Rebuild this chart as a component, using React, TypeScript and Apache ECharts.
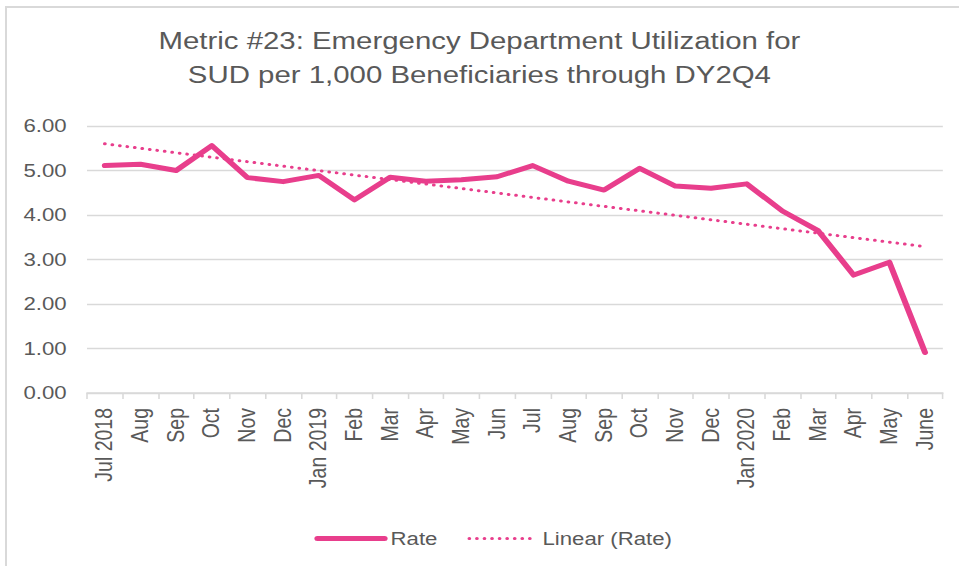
import React, { useEffect, useRef } from "react";
import * as echarts from "echarts";

const titleLines = [
  "Metric #23: Emergency Department Utilization for",
  "SUD per 1,000 Beneficiaries through DY2Q4",
];

const categories = [
  "Jul 2018", "Aug", "Sep", "Oct", "Nov", "Dec",
  "Jan 2019", "Feb", "Mar", "Apr", "May", "Jun",
  "Jul", "Aug", "Sep", "Oct", "Nov", "Dec",
  "Jan 2020", "Feb", "Mar", "Apr", "May", "June",
];

const rateValues = [
  5.11, 5.14, 5.0, 5.56, 4.84, 4.75,
  4.89, 4.34, 4.85, 4.76, 4.79, 4.86,
  5.11, 4.76, 4.56, 5.05, 4.65, 4.6,
  4.7, 4.09, 3.65, 2.65, 2.94, 0.91,
];

// Trend line endpoints (first and last month)
const trendStart = 5.6;
const trendEnd = 3.29;

const yTicks = { min: 0, max: 6, interval: 1 };

const seriesNames = ["Rate", "Linear (Rate)"];

const PINK = "#E83E8C";
const TEXT = "#595959";
const GRID = "#D9D9D9";
const FONT = "'Liberation Sans', Arial, Helvetica, sans-serif";
const SX = 1.2;
const W = 959 / SX;
const H = 566;

export default function App() {
  const ref = useRef<HTMLDivElement>(null);

  useEffect(() => {
    if (!ref.current) return;
    const chart = echarts.init(ref.current, undefined, { renderer: "svg" });
    const trendData = categories.map((_, i) =>
      i === 0 ? trendStart : i === categories.length - 1 ? trendEnd : null
    );
    chart.setOption({
      animation: false,
      backgroundColor: "transparent",
      title: {
        text: titleLines.join("\n"),
        left: "center",
        top: 24,
        padding: 0,
        textStyle: {
          fontFamily: FONT,
          fontSize: 24.5,
          lineHeight: 34,
          fontWeight: "normal",
          color: TEXT,
        },
      },
      legend: {
        left: 257,
        top: 524,
        itemWidth: 56,
        itemHeight: 14,
        itemGap: 25,
        itemStyle: { opacity: 0 },
        textStyle: { fontFamily: FONT, fontSize: 18.5, color: TEXT },
        data: [
          { name: seriesNames[0], lineStyle: { width: 5 } },
          { name: seriesNames[1], lineStyle: { width: 3 } },
        ],
      },
      grid: { left: 72.5, right: 13.3, top: 126, bottom: 173 },
      xAxis: {
        type: "category",
        data: categories,
        boundaryGap: true,
        axisLine: { show: true, lineStyle: { color: GRID, width: 1.5 } },
        axisTick: { show: true, length: 6, alignWithLabel: false, lineStyle: { color: GRID, width: 1.3 } },
        axisLabel: {
          rotate: 90,
          interval: 0,
          margin: 15,
          fontFamily: FONT,
          fontSize: 19.5,
          color: TEXT,
        },
        splitLine: { show: false },
      },
      yAxis: {
        type: "value",
        min: yTicks.min,
        max: yTicks.max,
        interval: yTicks.interval,
        axisLine: { show: false },
        axisTick: { show: false },
        axisLabel: {
          margin: 17,
          fontFamily: FONT,
          fontSize: 18.5,
          color: TEXT,
          formatter: (v: number) => v.toFixed(2),
        },
        splitLine: { show: true, lineStyle: { color: GRID, width: 1.3 } },
      },
      series: [
        {
          name: seriesNames[0],
          type: "line",
          data: rateValues,
          symbol: "none",
          lineStyle: { color: PINK, width: 5, cap: "round", join: "round" },
          itemStyle: { color: PINK },
          z: 3,
        },
        {
          name: seriesNames[1],
          type: "line",
          data: trendData,
          connectNulls: true,
          symbol: "none",
          lineStyle: { color: PINK, width: 3, type: [0.1, 6.2], cap: "round" },
          itemStyle: { color: PINK },
          z: 2,
        },
      ],
    });
    return () => chart.dispose();
  }, []);

  return (
    <div style={{ position: "fixed", left: 0, top: 0, width: 959, height: 566, background: "#fff", overflow: "hidden" }}>
      <div
        style={{
          position: "absolute",
          left: 5,
          top: 6,
          width: 1200,
          height: 1200,
          borderLeft: "2px solid #D9D9D9",
          borderTop: "2px solid #D9D9D9",
        }}
      />
      <div
        ref={ref}
        style={{
          position: "absolute",
          left: 0,
          top: 0,
          width: W,
          height: H,
          transform: `scaleX(${SX})`,
          transformOrigin: "0 0",
        }}
      />
    </div>
  );
}
